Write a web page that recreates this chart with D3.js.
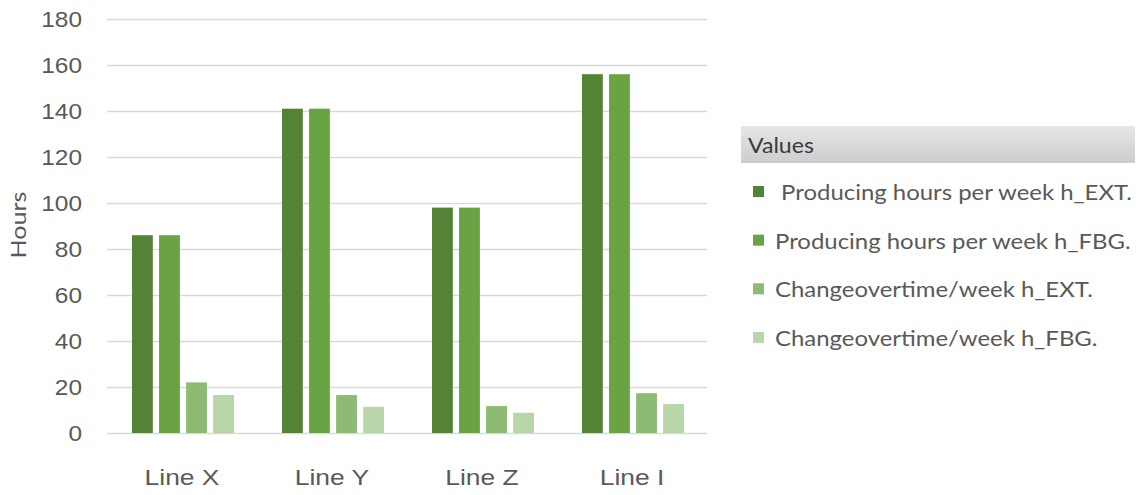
<!DOCTYPE html>
<html>
<head>
<meta charset="utf-8">
<script src="https://cdn.jsdelivr.net/npm/d3@7"></script>
<style>
  html, body { margin: 0; padding: 0; background: #fff; }
  svg { display: block; font-family: Lato, "Open Sans", sans-serif; }
</style>
</head>
<body>
<svg id="chart" width="1138" height="495"></svg>
<script>
// Weekly hours per production line
const categories = ["Line X", "Line Y", "Line Z", "Line I"];
const seriesNames = [
  " Producing hours per week h_EXT.",
  "Producing hours per week h_FBG.",
  "Changeovertime/week h_EXT.",
  "Changeovertime/week h_FBG."
];
const producingExt = [86, 141, 98, 156];
const producingFbg = [86, 141, 98, 156];
const changeoverExt = [22, 16.5, 11.7, 17.3];
const changeoverFbg = [16.5, 11.4, 8.8, 12.6];
const yTicks = [0, 20, 40, 60, 80, 100, 120, 140, 160, 180];
const seriesColors = ["#558335", "#69a343", "#8dbb74", "#b9d6aa"];

const seriesValues = [producingExt, producingFbg, changeoverExt, changeoverFbg];

const svg = d3.select("#chart");

const plot = { left: 107, right: 707, top: 19, bottom: 433 };
// the typeface is drawn slightly widened
const tickStretch = 1.11, catStretch = 1.2, legendStretch = 1.14;

const y = d3.scaleLinear().domain([0, 180]).range([plot.bottom, plot.top]);
const x0 = d3.scaleBand().domain(categories).range([plot.left, plot.right]).padding(0);
const x1 = d3.scaleBand().domain(d3.range(seriesValues.length))
  .range([25, x0.bandwidth() - 23]).paddingInner(0.23).paddingOuter(0);

// horizontal gridlines and value labels
const yAxis = d3.axisLeft(y).tickValues(yTicks).tickSize(-(plot.right - plot.left)).tickPadding(25).tickFormat(d3.format("d"));
const gy = svg.append("g").attr("transform", `translate(${plot.left},0)`).call(yAxis);
gy.select(".domain").remove();
gy.selectAll(".tick line").attr("stroke", "#d9d9d9").attr("stroke-width", 1.6);
gy.selectAll(".tick text")
  .attr("fill", "#595959").attr("font-size", 22).attr("dy", "0.33em")
  .attr("x", -25 / tickStretch)
  .attr("transform", `scale(${tickStretch},1)`);

// bars
const groups = svg.append("g").selectAll("g")
  .data(categories)
  .join("g")
  .attr("transform", d => `translate(${x0(d)},0)`);

groups.selectAll("rect")
  .data((d, i) => seriesValues.map((vals, s) => ({ s, v: vals[i] })))
  .join("rect")
  .attr("x", d => x1(d.s))
  .attr("width", x1.bandwidth())
  .attr("y", d => y(d.v))
  .attr("height", d => y(0) - y(d.v))
  .attr("fill", d => seriesColors[d.s]);

// category axis labels
const xAxis = d3.axisBottom(x0).tickSize(0).tickPadding(36);
const gx = svg.append("g").attr("transform", `translate(0,${plot.bottom})`).call(xAxis);
gx.select(".domain").remove();
gx.selectAll(".tick text")
  .attr("fill", "#595959").attr("font-size", 22)
  .attr("transform", `scale(${catStretch},1)`);

// y-axis title
svg.append("text")
  .attr("transform", `translate(26,225) rotate(-90) scale(1.14,1)`)
  .attr("text-anchor", "middle")
  .attr("fill", "#595959")
  .attr("font-size", 22)
  .text("Hours");

// legend
const defs = svg.append("defs");
const grad = defs.append("linearGradient").attr("id", "hdr").attr("x1", 0).attr("y1", 0).attr("x2", 0).attr("y2", 1);
grad.append("stop").attr("offset", "0%").attr("stop-color", "#e6e6e6");
grad.append("stop").attr("offset", "100%").attr("stop-color", "#cdcdcd");

const legend = svg.append("g");
legend.append("rect")
  .attr("x", 741).attr("y", 126).attr("width", 394).attr("height", 37)
  .attr("fill", "url(#hdr)");
legend.append("text")
  .attr("transform", "translate(748,153) scale(1.1,1)")
  .attr("fill", "#3a3a3a")
  .attr("font-size", 21)
  .text("Values");

const ly = d3.scalePoint().domain(d3.range(seriesNames.length)).range([192, 338]);
const items = legend.selectAll("g.item")
  .data(seriesNames)
  .join("g")
  .attr("class", "item")
  .attr("transform", (d, i) => `translate(0,${ly(i)})`);
items.append("rect")
  .attr("x", 753).attr("y", -6).attr("width", 11).attr("height", 11)
  .attr("fill", (d, i) => seriesColors[i]);
items.append("text")
  .attr("transform", `translate(775,8) scale(${legendStretch},1)`)
  .attr("fill", "#595959")
  .attr("font-size", 21)
  .attr("xml:space", "preserve")
  .style("white-space", "pre")
  .text(d => d);
</script>
</body>
</html>
